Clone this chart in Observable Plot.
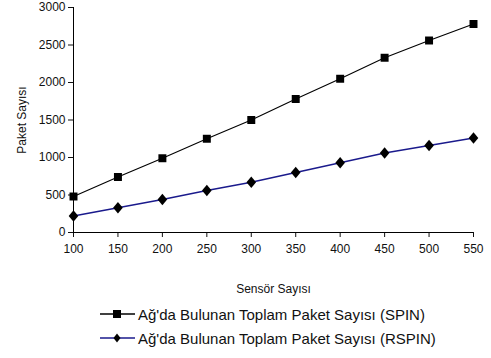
<!DOCTYPE html>
<html>
<head>
<meta charset="utf-8">
<script src="https://cdn.jsdelivr.net/npm/d3@7"></script>
<script src="https://cdn.jsdelivr.net/npm/@observablehq/plot@0.6"></script>
<style>
  html, body { margin: 0; padding: 0; background: #fff; }
  #chart { width: 491px; }
  .legend { font-family: "Liberation Sans", Arial, sans-serif; font-size: 15px; color: #111; }
  .legend .row { display: flex; align-items: center; height: 24px; margin-left: 100px; }
  .legend svg { margin-right: 3px; }
</style>
</head>
<body>
<div id="chart"></div>
<script>
// Sensor counts on the x axis
const sensors = [100, 150, 200, 250, 300, 350, 400, 450, 500, 550];
// Total packets in the network, SPIN protocol
const spin = [480, 740, 990, 1250, 1500, 1780, 2050, 2330, 2560, 2780];
// Total packets in the network, RSPIN protocol
const rspin = [220, 330, 440, 560, 670, 800, 930, 1060, 1160, 1260];
const xTicks = [100, 150, 200, 250, 300, 350, 400, 450, 500, 550];
const yTicks = [0, 500, 1000, 1500, 2000, 2500, 3000];
const seriesNames = [
  "Ağ'da Bulunan Toplam Paket Sayısı (SPIN)",
  "Ağ'da Bulunan Toplam Paket Sayısı (RSPIN)"
];
const colors = ["#000000", "#1a1a8c"];

const spinRows = sensors.map((s, i) => ({x: s, y: spin[i]}));
const rspinRows = sensors.map((s, i) => ({x: s, y: rspin[i]}));

// A rhombus slightly taller than wide, as in spreadsheet charts
const rhombus = {
  draw(context, size) {
    const h = Math.sqrt(size / 2) * 1.05;
    const w = h * 0.85;
    context.moveTo(0, -h);
    context.lineTo(w, 0);
    context.lineTo(0, h);
    context.lineTo(-w, 0);
    context.closePath();
  }
};

const tickFont = "'Liberation Sans Narrow', 'Arial Narrow', 'Liberation Sans', sans-serif";

const chart = Plot.plot({
  width: 491,
  height: 302,
  marginLeft: 73,
  marginRight: 18,
  marginTop: 7,
  marginBottom: 70,
  style: {fontFamily: tickFont, fontSize: "12px", color: "#111", background: "#fff", overflow: "visible"},
  x: {domain: [100, 550], ticks: xTicks},
  y: {domain: [0, 3000], ticks: yTicks},
  marks: [
    Plot.axisX({ticks: xTicks, tickFormat: "d", tickSize: 5, tickPadding: 7, label: "Sensör Sayısı", labelAnchor: "center", labelArrow: "none", labelOffset: 60, fontSize: 12}),
    Plot.axisY({ticks: yTicks, tickFormat: "d", tickSize: 5, tickPadding: 3, label: "Paket Sayısı", labelAnchor: "center", labelArrow: "none", labelOffset: 56, fontSize: 12}),
    Plot.ruleY([0], {stroke: "#000"}),
    Plot.ruleX([100], {stroke: "#000"}),
    Plot.line(spinRows, {x: "x", y: "y", stroke: colors[0], strokeWidth: 1.1}),
    Plot.line(rspinRows, {x: "x", y: "y", stroke: colors[1], strokeWidth: 1.3}),
    Plot.dot(spinRows, {x: "x", y: "y", symbol: "square", r: 4.5, fill: "#000"}),
    Plot.dot(rspinRows, {x: "x", y: "y", symbol: rhombus, r: 4.3, fill: "#000"})
  ]
});
document.getElementById("chart").appendChild(chart);

// Legend below the plot
const legend = document.createElement("div");
legend.className = "legend";
seriesNames.forEach((name, i) => {
  const row = document.createElement("div");
  row.className = "row";
  const sym = i === 0
    ? `<rect x="13" y="6" width="8" height="8" fill="#000"/>`
    : `<path d="M17 5.5 L20.5 10 L17 14.5 L13.5 10 Z" fill="#000"/>`;
  row.innerHTML = `<svg width="35" height="20"><line x1="0" x2="35" y1="10" y2="10" stroke="${colors[i]}" stroke-width="1.5"/>${sym}</svg><span>${name}</span>`;
  legend.appendChild(row);
});
document.getElementById("chart").appendChild(legend);
</script>
</body>
</html>
